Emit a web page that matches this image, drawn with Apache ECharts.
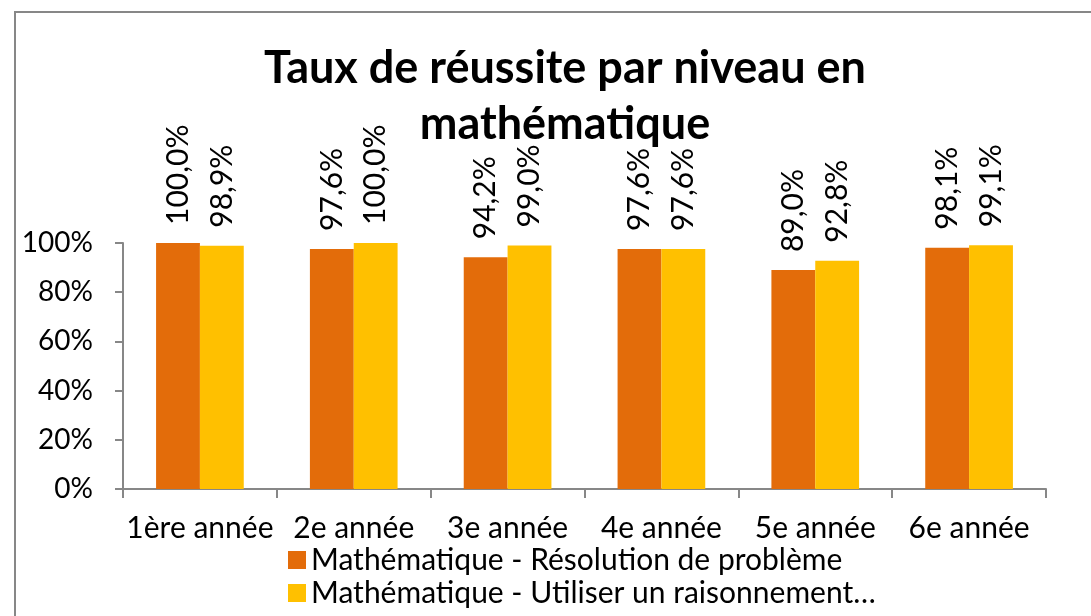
<!DOCTYPE html>
<html><head><meta charset="utf-8">
<script src="https://cdn.jsdelivr.net/npm/echarts@6/dist/echarts.min.js"></script>
<style>html,body{margin:0;padding:0;background:#fff}#c{width:1091px;height:616px}</style>
</head><body><div id="c"></div>
<script>
const categories = ['1ère année','2e année','3e année','4e année','5e année','6e année'];
const seriesNames = ['Mathématique - Résolution de problème','Mathématique - Utiliser un raisonnement…'];
const resolution = [100.0, 97.6, 94.2, 97.6, 89.0, 98.1];
const raisonnement = [98.9, 100.0, 99.0, 97.6, 92.8, 99.1];
const yTicks = [0, 20, 40, 60, 80, 100];
const titleText = 'Taux de réussite par niveau en\nmathématique';

const font = 'Lato';
const chart = echarts.init(document.getElementById('c'), null, {renderer:'canvas'});
const lbl = {
  show: true, position: 'top', rotate: 90, align: 'left', verticalAlign: 'middle', distance: 18,
  fontFamily: font, fontSize: 30, color: '#000',
  formatter: p => p.value.toFixed(1).replace('.', ',') + '%'
};
const legendBase = {orient: 'horizontal', left: 283, itemWidth: 18, itemHeight: 18,
  icon: 'rect', textStyle: {fontFamily: font, fontSize: 30, color: '#000'}};
chart.setOption({
  animation: false,
  textStyle: {fontFamily: font},
  graphic: [{type:'rect', shape:{x:15, y:12, width:1200, height:800}, style:{fill:'none', stroke:'#878787', lineWidth:2}, silent:true, z:-1}],
  title: {text: titleText, left: 560, top: 35, textAlign: 'center',
    textStyle: {fontFamily: font, fontWeight: 'bold', fontSize: 45, lineHeight: 56, color: '#000'}},
  legend: [
    Object.assign({}, legendBase, {top: 540, data: [seriesNames[0]]}),
    Object.assign({}, legendBase, {top: 573, data: [seriesNames[1]]})
  ],
  grid: {left: 123, right: 45, top: 243, bottom: 127, containLabel: false},
  xAxis: {type: 'category', data: categories,
    axisLine: {lineStyle: {color: '#878787', width: 2}},
    axisTick: {show: true, length: 9, lineStyle: {color: '#878787', width: 2}},
    axisLabel: {fontFamily: font, fontSize: 30, color: '#000', margin: 24, interval: 0}},
  yAxis: {type: 'value', min: 0, max: 100, interval: 20,
    axisLine: {show: true, lineStyle: {color: '#878787', width: 2}},
    axisTick: {show: true, length: 8, lineStyle: {color: '#878787', width: 2}},
    splitLine: {show: false},
    axisLabel: {fontFamily: font, fontSize: 28, color: '#000', margin: 30,
      formatter: v => yTicks.includes(v) ? v + '%' : ''}},
  series: [
    {name: seriesNames[0], type: 'bar', data: resolution, itemStyle: {color: '#E36C0A'},
     barGap: '0%', barCategoryGap: '43%', label: lbl},
    {name: seriesNames[1], type: 'bar', data: raisonnement, itemStyle: {color: '#FFC000'},
     barGap: '0%', barCategoryGap: '43%', label: lbl}
  ]
});
</script></body></html>
